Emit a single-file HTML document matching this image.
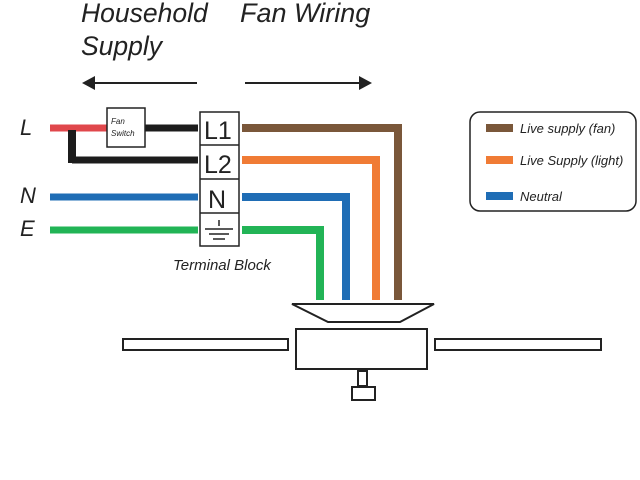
<!DOCTYPE html>
<html><head><meta charset="utf-8"><style>
html,body{margin:0;padding:0;background:#fff;width:640px;height:480px;overflow:hidden}
text{font-family:"Liberation Sans",sans-serif;font-style:italic;fill:#222}
</style></head><body>
<svg width="640" height="480" viewBox="0 0 640 480" xmlns="http://www.w3.org/2000/svg">
<text x="81" y="22" font-size="26.5">Household</text>
<text x="81" y="55" font-size="26.5">Supply</text>
<text x="240" y="22" font-size="27">Fan Wiring</text>
<line x1="88" y1="83" x2="197" y2="83" stroke="#222" stroke-width="2"/>
<polygon points="82,83 95,76 95,90" fill="#222"/>
<line x1="245" y1="83" x2="365" y2="83" stroke="#222" stroke-width="2"/>
<polygon points="372,83 359,76 359,90" fill="#222"/>
<text x="20" y="135" font-size="22">L</text>
<text x="20" y="203" font-size="22">N</text>
<text x="20" y="236" font-size="22">E</text>
<line x1="50" y1="128" x2="108" y2="128" stroke="#e0474c" stroke-width="7"/>
<line x1="145" y1="128" x2="198" y2="128" stroke="#1c1c1c" stroke-width="7"/>
<polyline points="72,160 198,160" fill="none" stroke="#1c1c1c" stroke-width="7"/>
<line x1="72" y1="130" x2="72" y2="163" stroke="#1c1c1c" stroke-width="8"/>
<line x1="50" y1="197" x2="198" y2="197" stroke="#1f6db5" stroke-width="7"/>
<line x1="50" y1="230" x2="198" y2="230" stroke="#22b456" stroke-width="7"/>
<rect x="107" y="108" width="38" height="39" fill="#fff" stroke="#222" stroke-width="1.5"/>
<text x="111" y="124" font-size="8">Fan</text>
<text x="111" y="136" font-size="8">Switch</text>
<rect x="200" y="112" width="39" height="134" fill="#fff" stroke="#222" stroke-width="1.5"/>
<line x1="200" y1="145" x2="239" y2="145" stroke="#222" stroke-width="1.5"/>
<line x1="200" y1="179" x2="239" y2="179" stroke="#222" stroke-width="1.5"/>
<line x1="200" y1="213" x2="239" y2="213" stroke="#222" stroke-width="1.5"/>
<text x="204" y="139" font-size="25" style="font-style:normal">L1</text>
<text x="204" y="173" font-size="25" style="font-style:normal">L2</text>
<text x="208" y="208" font-size="25" style="font-style:normal">N</text>
<line x1="219" y1="220" x2="219" y2="226" stroke="#222" stroke-width="1.5"/>
<line x1="205" y1="229" x2="233" y2="229" stroke="#222" stroke-width="1.5"/>
<line x1="209" y1="234" x2="229" y2="234" stroke="#222" stroke-width="1.5"/>
<line x1="213" y1="239" x2="225" y2="239" stroke="#222" stroke-width="1.5"/>
<text x="173" y="270" font-size="15">Terminal Block</text>
<polyline points="242,128 398,128 398,300" fill="none" stroke="#7a573a" stroke-width="8"/>
<polyline points="242,160 376,160 376,300" fill="none" stroke="#f07b35" stroke-width="8"/>
<polyline points="242,197 346,197 346,300" fill="none" stroke="#1f6db5" stroke-width="8"/>
<polyline points="242,230 320,230 320,300" fill="none" stroke="#22b456" stroke-width="8"/>
<polygon points="292,304 434,304 400,322 328,322" fill="#fff" stroke="#222" stroke-width="2"/>
<rect x="296" y="329" width="131" height="40" fill="#fff" stroke="#222" stroke-width="2"/>
<rect x="123" y="339" width="165" height="11" fill="#fff" stroke="#222" stroke-width="2"/>
<rect x="435" y="339" width="166" height="11" fill="#fff" stroke="#222" stroke-width="2"/>
<rect x="358" y="371" width="9" height="15" fill="#fff" stroke="#222" stroke-width="2"/>
<rect x="352" y="387" width="23" height="13" fill="#fff" stroke="#222" stroke-width="2"/>
<rect x="470" y="112" width="166" height="99" rx="10" fill="#fff" stroke="#222" stroke-width="1.5"/>
<rect x="486" y="124" width="27" height="8" fill="#7a573a"/>
<rect x="486" y="156" width="27" height="8" fill="#f07b35"/>
<rect x="486" y="192" width="27" height="8" fill="#1f6db5"/>
<text x="520" y="133" font-size="13">Live supply (fan)</text>
<text x="520" y="165" font-size="13">Live Supply (light)</text>
<text x="520" y="201" font-size="13">Neutral</text>
</svg>
</body></html>
